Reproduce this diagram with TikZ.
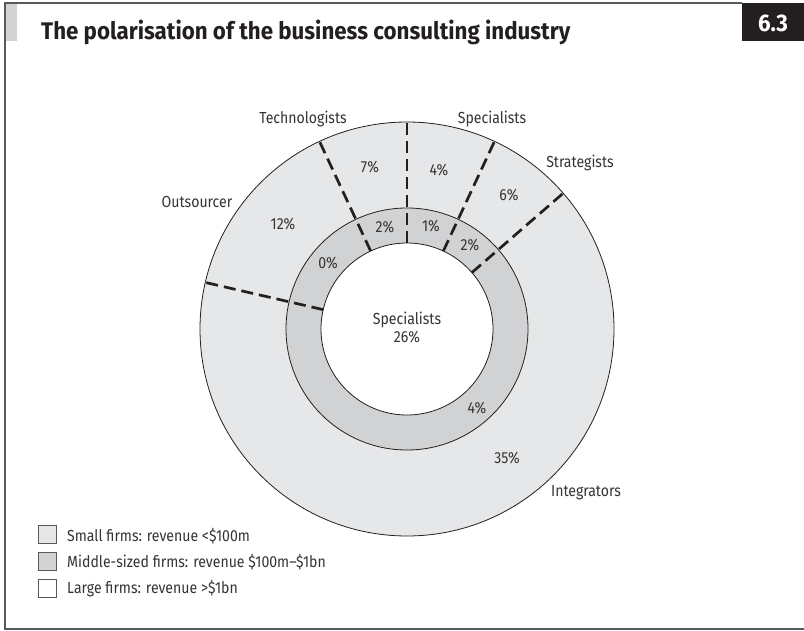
\documentclass[tikz,border=0pt]{standalone}
\usepackage{fontspec}
\setmainfont{Fira Sans}[FakeStretch=0.88]
\newfontfamily\headfont{Fira Sans}[FakeStretch=0.93]
\usetikzlibrary{calc}

\definecolor{smallgrey}{HTML}{E6E7E8}
\definecolor{midgrey}{HTML}{D1D2D4}
\definecolor{bargrey}{HTML}{D1D3D4}
\definecolor{framegrey}{HTML}{58595B}
\definecolor{inkblack}{HTML}{231F20}
\definecolor{labelgrey}{HTML}{333333}

\tikzstyle{ring} = [draw=inkblack, line width=0.8pt]
\tikzstyle{divider} = [draw=inkblack, line width=2.7pt, dash pattern=on 12pt off 6pt]
\tikzstyle{label} = [anchor=base, inner sep=0pt, text=labelgrey, font=\fontsize{16}{18}\selectfont]
\tikzstyle{key} = [draw=framegrey, line width=0.8pt, minimum size=18pt, inner sep=0pt]
\tikzstyle{keytext} = [anchor=base west, inner sep=0pt, text=labelgrey, font=\fontsize{16}{18}\selectfont]
\tikzstyle{heading} = [anchor=base west, inner sep=0pt, text=inkblack, font=\headfont\bfseries\fontsize{24}{26}\selectfont]

\begin{document}
\begin{tikzpicture}[x=1pt, y=1pt]
\useasboundingbox (0,0) rectangle (804,-631);

% frame and heading
\fill[bargrey] (6,-3) rectangle (17,-41);
\draw[framegrey, line width=1.5pt] (742,-3) -- (5,-3) -- (5,-629) -- (804,-629);
\fill[inkblack] (742,-3) rectangle (804,-41);
\node (fignum) [heading, anchor=base, text=white] at (773,-32) {6.3};
\node (title) [heading] at (41,-39.5) {The polarisation of the business consulting industry};

% rings
\coordinate (c) at (407,-329);
\draw[ring, fill=smallgrey] (c) circle (207);
\draw[ring, fill=midgrey] (c) circle (121);
\draw[ring, fill=white] (c) circle (86);
\foreach \a in {167,115,90,65,41}
  \draw[divider] ($(c)+(\a:86)$) -- ($(c)+(\a:207)$);

% segment names
\node (tech) [label] at (303,-124) {Technologists};
\node (spec) [label] at (492,-124) {Specialists};
\node (strat) [label] at (580,-168) {Strategists};
\node (outs) [label] at (197,-208) {Outsourcer};
\node (integ) [label] at (586,-496) {Integrators};

% shares
\node (techS) [label] at (370,-173) {7\%};
\node (specS) [label] at (439,-176) {4\%};
\node (outsS) [label] at (283,-230) {12\%};
\node (stratS) [label] at (509,-201) {6\%};
\node (integS) [label] at (507,-463) {35\%};
\node (techM) [label] at (385,-233) {2\%};
\node (specM) [label] at (431,-232) {1\%};
\node (outsM) [label] at (328,-269) {0\%};
\node (stratM) [label] at (470,-251) {2\%};
\node (integM) [label] at (477,-413) {4\%};
\node (specL) [label] at (407,-325) {Specialists};
\node (specLS) [label] at (407,-343) {26\%};

% key
\node (small) [key, fill=smallgrey] at (47.5,-534.5) {};
\node (middle) [key, fill=midgrey] at (47.5,-561.5) {};
\node (large) [key, fill=white] at (47.5,-588.5) {};
\node (smallT) [keytext] at (67,-541) {Small firms: revenue <\$100m};
\node (middleT) [keytext] at (67,-567) {Middle-sized firms: revenue \$100m--\$1bn};
\node (largeT) [keytext] at (67,-593) {Large firms: revenue >\$1bn};
\end{tikzpicture}
\end{document}
